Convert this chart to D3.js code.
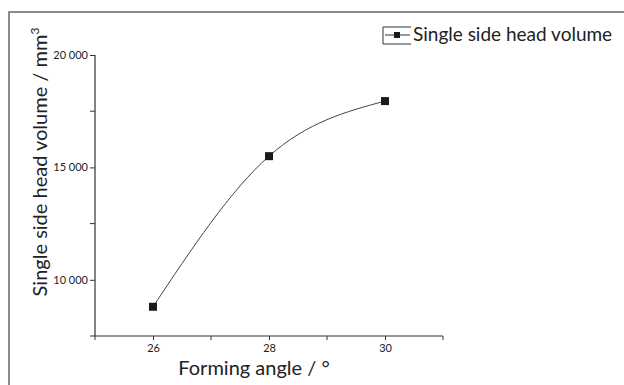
<!DOCTYPE html>
<html><head><meta charset="utf-8">
<script src="https://cdn.jsdelivr.net/npm/d3@7"></script>
<style>body{margin:0;background:#fff;}svg{display:block;font-family:Lato,"Open Sans",sans-serif;}</style>
</head><body>
<svg id="c" width="624" height="385"></svg>
<script>
const angles = [26, 28, 30];
const volumes = [8800, 15500, 17950];
const xTicks = [26, 28, 30];
const xMinor = [25, 27, 29, 31];
const yTicks = [10000, 15000, 20000];
const yMinor = [7500, 12500, 17500];
const seriesName = "Single side head volume";

const svg = d3.select("#c");
const x = d3.scaleLinear().domain([25, 31]).range([95, 443]);
const y = d3.scaleLinear().domain([7500, 20000]).range([336, 55]);
const fmt = v => d3.format(",")(v).replace(",", " ");

// outer frame (top + left)
svg.append("path").attr("d", "M9,385V12H624").attr("fill", "none").attr("stroke", "#666").attr("stroke-width", 1.5);

// axes
const ax = svg.append("g").attr("transform", "translate(0,336)")
  .call(d3.axisBottom(x).tickValues(xTicks).tickSize(4).tickPadding(4).tickFormat(d3.format("d")));
ax.append("g").selectAll("line").data(xMinor).join("line")
  .attr("x1", d => x(d)).attr("x2", d => x(d)).attr("y1", 0).attr("y2", 4).attr("stroke", "#333");
ax.select(".domain").attr("d", `M${x(25)},0H${x(31)}`);

const ay = svg.append("g").attr("transform", "translate(95,0)")
  .call(d3.axisLeft(y).tickValues(yTicks).tickSize(5).tickPadding(2).tickFormat(fmt));
ay.append("g").selectAll("line").data(yMinor).join("line")
  .attr("y1", d => y(d)).attr("y2", d => y(d)).attr("x1", 0).attr("x2", -5).attr("stroke", "#333");
ay.select(".domain").attr("d", `M0,${y(20000)}V${y(7500)}`);

[ax, ay].forEach(g => {
  g.selectAll(".domain").attr("stroke", "#333").attr("stroke-width", 1.2);
  g.selectAll(".tick line").attr("stroke", "#333");
  g.selectAll("text").attr("font-family", "Lato, sans-serif").attr("font-size", 11).attr("fill", "#222");
});

// curve
const data = angles.map((a, i) => ({a, v: volumes[i]}));
svg.append("path").datum(data)
  .attr("d", d3.line().x(d => x(d.a)).y(d => y(d.v)).curve(d3.curveNatural))
  .attr("fill", "none").attr("stroke", "#444").attr("stroke-width", 1);
svg.selectAll("rect.pt").data(data).join("rect").attr("class", "pt")
  .attr("x", d => x(d.a) - 4).attr("y", d => y(d.v) - 4).attr("width", 8).attr("height", 8).attr("fill", "#1a1a1a");

// titles
svg.append("text").attr("x", 254).attr("y", 375).attr("text-anchor", "middle")
  .attr("font-size", 20).attr("fill", "#222").text("Forming angle / °");
const yt = svg.append("text").attr("transform", "translate(47,162) rotate(-90)").attr("text-anchor", "middle")
  .attr("font-size", 20).attr("fill", "#222");
yt.append("tspan").text("Single side head volume / mm");
yt.append("tspan").attr("font-size", 12).attr("dy", -8).text("3");

// legend
const lg = svg.append("g");
lg.append("path").attr("d", "M411,27H383V44H411").attr("fill", "none").attr("stroke", "#333").attr("stroke-width", 1);
lg.append("line").attr("x1", 385).attr("x2", 410).attr("y1", 35).attr("y2", 35).attr("stroke", "#333");
lg.append("rect").attr("x", 394).attr("y", 32).attr("width", 6).attr("height", 6).attr("fill", "#1a1a1a");
lg.append("text").attr("x", 413).attr("y", 41).attr("font-size", 19).attr("fill", "#222").text(seriesName);
</script>
</body></html>
